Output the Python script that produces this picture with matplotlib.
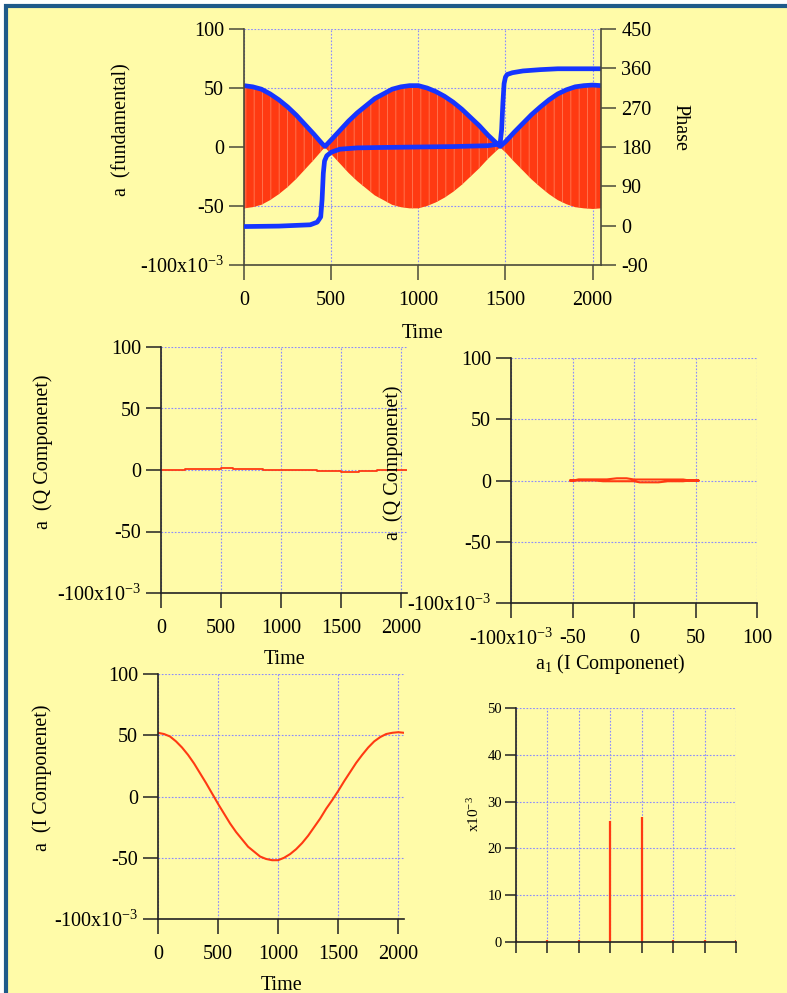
import matplotlib.pyplot as plt
import numpy as np
from matplotlib.patches import Rectangle

plt.rcParams['font.family'] = ['Liberation Serif', 'DejaVu Serif']
plt.rcParams['mathtext.fontset'] = 'custom'
plt.rcParams['mathtext.rm'] = 'Liberation Serif'
plt.rcParams['mathtext.it'] = 'Liberation Serif:italic'
plt.rcParams['axes.unicode_minus'] = False
plt.rcParams['hatch.linewidth'] = 0.6
plt.rcParams['hatch.color'] = '#ff7a55'

W, H = 787, 993

# values (amplitudes in units of 1e-3)
t = [0, 50, 100, 150, 200, 250, 300, 350, 400, 450, 465,
     500, 550, 600, 650, 700, 750, 800, 850, 900, 950, 1000, 1050, 1100,
     1150, 1200, 1250, 1300, 1350, 1400, 1450, 1470,
     1500, 1550, 1600, 1650, 1700, 1750, 1800, 1850, 1900, 1950, 2000, 2048]
i_comp = [52, 51, 49, 45, 40, 34, 27, 19, 11, 2.5, 0,
          -6, -14, -22, -29, -35, -41, -45, -49, -51, -52, -52, -50, -47,
          -43, -38, -32, -25, -18, -10, -3, 0,
          4.5, 12.5, 20, 27.5, 34, 40, 45, 48.5, 51, 52, 52.5, 52]
q_comp = [0, 0, 0, 0, 0.8, 0.8, 0.8, 0.8, 0.8, 0.8, 0.8,
          1.8, 1.8, 0.9, 0.9, 0.9, 0.9, 0.9, 0, 0, 0, 0, 0, 0,
          0, 0, 0, -0.6, -0.6, -0.6, -0.6, -0.6,
          -1.5, -1.5, -1.5, -0.6, -0.6, -0.6, 0, 0, 0, 0, 0, 0]
amp = [52, 51, 49, 45, 40, 34, 27, 19, 11, 2.5, 0.5,
       6, 14, 22, 29, 35, 41, 45, 49, 51, 52, 52, 50, 47,
       43, 38, 32, 25, 18, 10, 3, 0.5,
       4.5, 12.5, 20, 27.5, 34, 40, 45, 48.5, 51, 52, 52.5, 52]

t_phase = [0, 200, 380, 420, 440, 448, 455, 462, 475, 500, 550, 650, 800, 1000,
           1200, 1400, 1450, 1470, 1478, 1485, 1492, 1500, 1510, 1540, 1600,
           1700, 1800, 2048]
phase = [-2, -1, 2, 8, 20, 60, 120, 148, 160, 168, 175, 178, 179, 180,
         181, 183, 186, 190, 220, 280, 325, 340, 346, 350, 354, 357, 359, 359]

bins = [0, 1, 2, 3, 4, 5, 6, 7]
spectrum = [0.4, 0.4, 0.4, 25.8, 26.8, 0.4, 0.4, 0.4]

y_ticks = [-100, -50, 0, 50, 100]
y_labels = [r'-100x10$^{-3}$', '-50', '0', '50', '100']

RED = '#ff3a12'
BLUE = '#1535ff'
GRID = '#8a8aff'
FS = 14.5


def box(l, t, r, b):
    return [l / W, 1 - b / H, (r - l) / W, (b - t) / H]


def px(x, y):
    return x / W, 1 - y / H


def style(ax, color='#222222', size=FS, length=10.5, pad=4):
    for s in ['top', 'right']:
        ax.spines[s].set_visible(False)
    for s in ['left', 'bottom']:
        ax.spines[s].set_color(color)
        ax.spines[s].set_linewidth(1.2)
    ax.tick_params(direction='out', length=length, width=1.1, color=color,
                   labelsize=size, pad=pad)
    ax.tick_params(axis='x', pad=8)
    ax.grid(True, color=GRID, linestyle=(0, (1.5, 1.5)), linewidth=0.8)
    ax.set_axisbelow(True)
    ax.set_facecolor('none')


fig = plt.figure(figsize=(W / 100, H / 100), dpi=100, facecolor='white')
fig.patches.append(Rectangle((5.5 / W, -1), 3, 2 - 5.5 / H,
                             transform=fig.transFigure, facecolor='#fffba8',
                             edgecolor='#1f5a8a', linewidth=3, zorder=-10))

# top: fundamental with magnitude and phase
ax1 = fig.add_axes(box(244, 29, 601, 265))
style(ax1, color='#4a4a3a')
ax1.fill_between(t, -np.array(amp), np.array(amp), facecolor=RED, lw=0,
                 hatch='||')
ax1.plot(t, amp, color=BLUE, lw=3.4, solid_capstyle='butt')
ax1.set_xlim(0, 2048)
ax1.set_ylim(-100, 100)
ax1.set_xticks([0, 500, 1000, 1500, 2000])
ax1.set_yticks(y_ticks)
ax1.set_yticklabels(y_labels)

ax2 = ax1.twinx()
for s in ['top', 'left', 'bottom']:
    ax2.spines[s].set_visible(False)
ax2.spines['right'].set_color('#4a4a3a')
ax2.spines['right'].set_linewidth(1.2)
ax2.plot(t_phase, phase, color=BLUE, lw=3.4)
ax2.set_ylim(-90, 450)
ax2.set_yticks(range(-90, 451, 90))
ax2.tick_params(direction='out', length=10.5, width=1.1, color='#4a4a3a',
                labelsize=FS, pad=4)

fig.text(*px(122, 130), 'a  (fundamental)', rotation=90, fontsize=FS,
         ha='center', va='center')
fig.text(*px(680, 128), 'Phase', rotation=-90, fontsize=FS,
         ha='center', va='center')
fig.text(*px(423, 333), 'Time', fontsize=FS, ha='center', va='center')

# middle left: Q component vs time
ax3 = fig.add_axes(box(161, 347, 407, 593))
style(ax3)
ax3.plot(t, q_comp, drawstyle='steps-post', color=RED, lw=1.3)
ax3.set_xlim(0, 2048)
ax3.set_ylim(-100, 100)
ax3.set_xticks([0, 500, 1000, 1500, 2000])
ax3.set_yticks(y_ticks)
ax3.set_yticklabels(y_labels)
fig.text(*px(43, 452), 'a  (Q Componenet)', rotation=90, fontsize=FS,
         ha='center', va='center')
fig.text(*px(285, 660), 'Time', fontsize=FS, ha='center', va='center')

# middle right: Q vs I
ax4 = fig.add_axes(box(511, 358, 757, 603))
style(ax4)
ax4.plot(i_comp, q_comp, color=RED, lw=1.5)
ax4.set_xlim(-100, 100)
ax4.set_ylim(-100, 100)
ax4.set_xticks(y_ticks)
ax4.set_xticklabels(y_labels)
ax4.set_yticks(y_ticks)
ax4.set_yticklabels(y_labels)
fig.text(*px(393, 463), 'a  (Q Componenet)', rotation=90, fontsize=FS,
         ha='center', va='center')
fig.text(*px(610, 664), r'a$_1$ (I Componenet)', fontsize=FS,
         ha='center', va='center')

# bottom left: I component vs time
ax5 = fig.add_axes(box(158, 674, 404, 919))
style(ax5)
ax5.plot(t, i_comp, color=RED, lw=1.5)
ax5.set_xlim(0, 2048)
ax5.set_ylim(-100, 100)
ax5.set_xticks([0, 500, 1000, 1500, 2000])
ax5.set_yticks(y_ticks)
ax5.set_yticklabels(y_labels)
fig.text(*px(42, 778), 'a  (I Componenet)', rotation=90, fontsize=FS,
         ha='center', va='center')
fig.text(*px(282, 985), 'Time', fontsize=FS, ha='center', va='center')

# bottom right: spectrum
ax6 = fig.add_axes(box(516, 708, 736, 942))
style(ax6, size=10.5, length=8, pad=2)
ax6.vlines(bins, 0, spectrum, color=RED, lw=1.6)
ax6.set_xlim(0, 7)
ax6.set_ylim(0, 50)
ax6.set_xticks(bins)
ax6.set_xticklabels([])
ax6.set_yticks(range(0, 51, 10))
fig.text(*px(474, 814), r'x10$^{-3}$', rotation=90, fontsize=11,
         ha='center', va='center')

fig.savefig('out.png', dpi=100, facecolor='white')
